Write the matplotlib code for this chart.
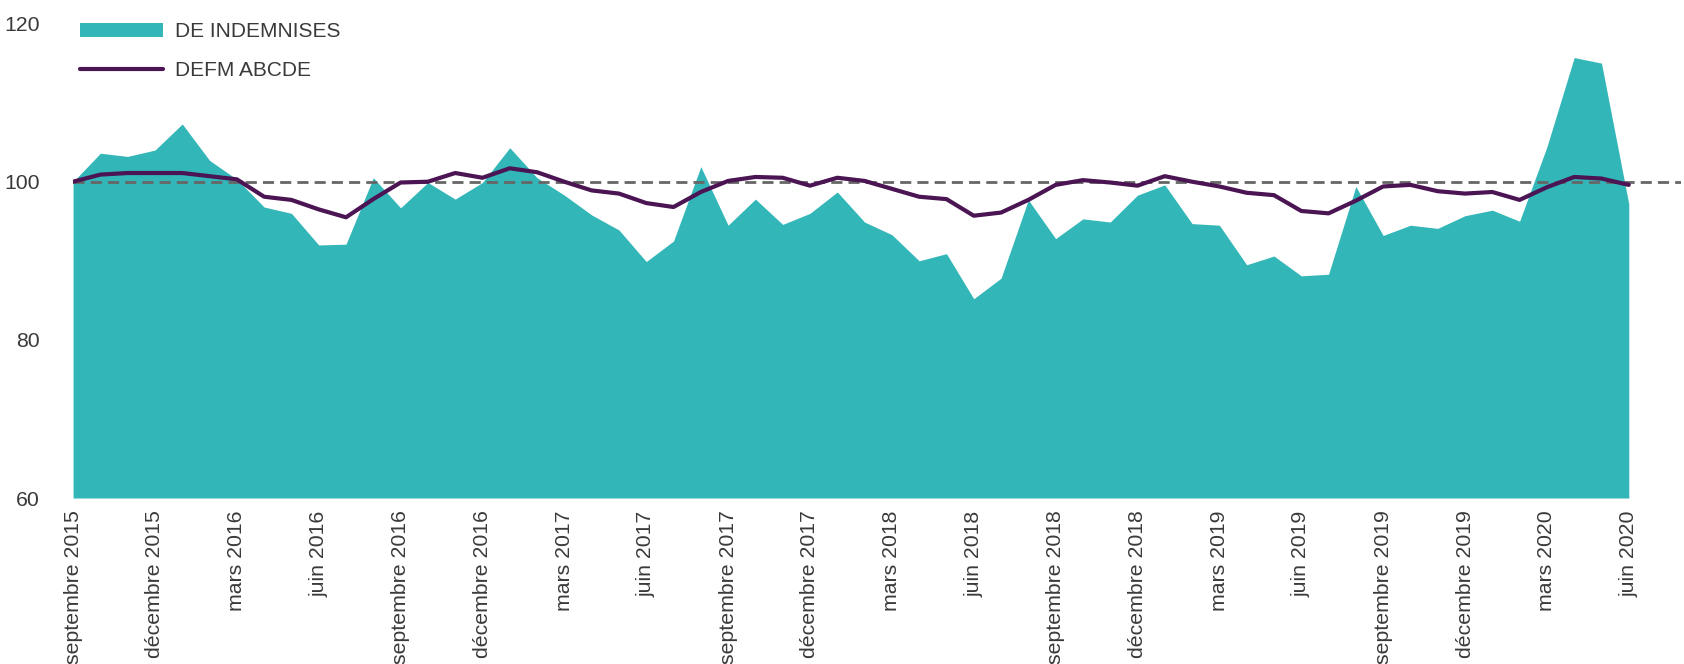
import matplotlib
matplotlib.use("Agg")
import matplotlib.pyplot as plt
import numpy as np

plt.rcParams['font.family'] = ['Liberation Sans', 'DejaVu Sans']

# Monthly index values, septembre 2015 -> juin 2020
de_indemnises = [100, 103.6, 103.2, 104.0, 107.3, 102.7, 100.3, 96.8, 96.0, 92.0,
                 92.1, 100.5, 96.7, 99.9, 97.8, 99.9, 104.3, 100.5, 98.3, 95.8,
                 93.9, 89.9, 92.5, 101.9, 94.5, 97.8, 94.6, 96.0, 98.7, 94.9,
                 93.3, 90.0, 90.9, 85.2, 87.8, 97.7, 92.8, 95.3, 94.9, 98.3,
                 99.6, 94.7, 94.5, 89.5, 90.6, 88.1, 88.3, 99.4, 93.2, 94.5,
                 94.1, 95.7, 96.4, 95.0, 104.4, 115.7, 115.0, 97.2]
defm_abcde = [100, 100.9, 101.1, 101.1, 101.1, 100.7, 100.3, 98.1, 97.7, 96.5,
              95.5, 97.8, 99.9, 100.0, 101.1, 100.5, 101.7, 101.2, 100.0, 98.9,
              98.5, 97.3, 96.8, 98.7, 100.1, 100.6, 100.5, 99.5, 100.5, 100.1,
              99.1, 98.1, 97.8, 95.7, 96.1, 97.7, 99.6, 100.2, 99.9, 99.5,
              100.7, 100.0, 99.4, 98.6, 98.3, 96.3, 96.0, 97.6, 99.4, 99.6,
              98.8, 98.5, 98.7, 97.7, 99.3, 100.6, 100.4, 99.6]
tick_labels = ["septembre 2015", "décembre 2015", "mars 2016", "juin 2016",
               "septembre 2016", "décembre 2016", "mars 2017", "juin 2017",
               "septembre 2017", "décembre 2017", "mars 2018", "juin 2018",
               "septembre 2018", "décembre 2018", "mars 2019", "juin 2019",
               "septembre 2019", "décembre 2019", "mars 2020", "juin 2020"]
y_ticks = [60, 80, 100, 120]
reference_level = 100

x = np.arange(len(de_indemnises))

fig = plt.figure(figsize=(16.84, 6.64), dpi=100)
ax = fig.add_axes([0.0434, 0.25, 0.9546, 0.7145])

text_color = '#3a3a3a'
ax.fill_between(x, 60, de_indemnises, color='#33b6b8', linewidth=0,
                label='DE INDEMNISES', zorder=1)
ax.axhline(reference_level, color='#666666', lw=2.0, dashes=(4, 2.2), zorder=2)
ax.plot(x, defm_abcde, color='#4b1453', lw=3.0, label='DEFM ABCDE', zorder=3,
        solid_joinstyle='round', solid_capstyle='round')

ax.set_xlim(0, 58.9)
ax.set_ylim(60, 120)
ax.set_yticks(y_ticks)
ax.set_xticks(x[::3])
ax.set_xticklabels(tick_labels, rotation=90, va='top', ha='center')
ax.tick_params(axis='both', length=0, labelsize=15.3, colors=text_color)
ax.tick_params(axis='y', pad=24)
ax.tick_params(axis='x', pad=9)
for s in ax.spines.values():
    s.set_visible(False)
ax.set_facecolor('white')

leg = ax.legend(loc='upper left', bbox_to_anchor=(-0.001, 1.02), frameon=False,
                fontsize=15, handlelength=4.0, handleheight=0.7,
                handletextpad=0.55, labelspacing=0.95, borderaxespad=0)
for t in leg.get_texts():
    t.set_color(text_color)

fig.savefig('out.png', dpi=100, facecolor='white')
